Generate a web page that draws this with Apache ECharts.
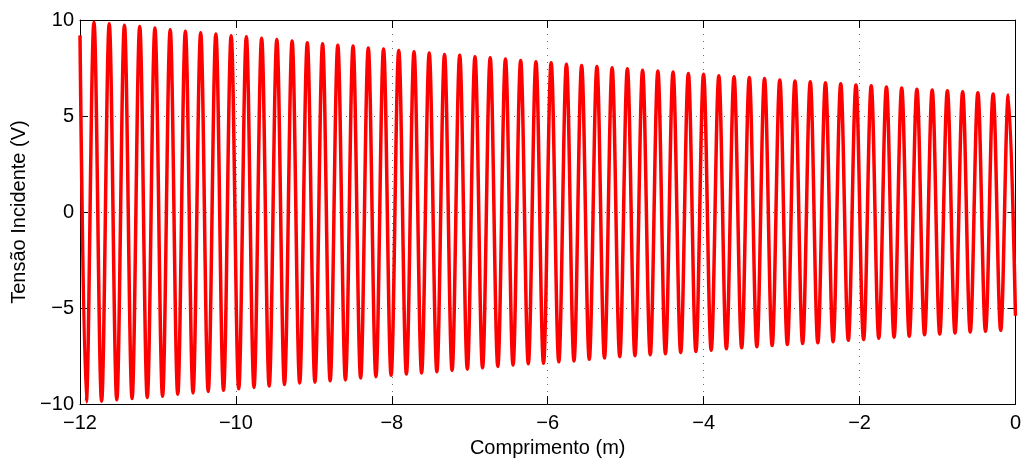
<!DOCTYPE html>
<html>
<head>
<meta charset="utf-8">
<script src="https://cdn.jsdelivr.net/npm/echarts@6/dist/echarts.min.js"></script>
<style>
  html, body { margin: 0; padding: 0; background: #ffffff; }
  #chart { width: 1024px; height: 463px; }
</style>
</head>
<body>
<div id="chart"></div>
<script>
// Crest positions (m) and crest voltages (V) of the incident wave
const peakX = [
  -11.821, -11.625, -11.430, -11.234, -11.039, -10.843, -10.648, -10.452, -10.257, -10.061,
  -9.866, -9.670, -9.475, -9.279, -9.084, -8.888, -8.693, -8.497, -8.302, -8.106,
  -7.911, -7.715, -7.520, -7.324, -7.129, -6.933, -6.738, -6.542, -6.347, -6.151,
  -5.956, -5.760, -5.565, -5.369, -5.174, -4.978, -4.783, -4.587, -4.392, -4.196,
  -4.001, -3.805, -3.610, -3.414, -3.219, -3.023, -2.828, -2.632, -2.437, -2.241,
  -2.046, -1.850, -1.655, -1.459, -1.264, -1.068, -0.873, -0.677, -0.482, -0.286,
  -0.091
];
const peakV = [
  9.88, 9.80, 9.73, 9.66, 9.58, 9.49, 9.42, 9.34, 9.27, 9.18,
  9.13, 9.05, 8.98, 8.91, 8.82, 8.76, 8.69, 8.64, 8.54, 8.49,
  8.41, 8.35, 8.28, 8.21, 8.16, 8.09, 8.03, 7.97, 7.89, 7.82,
  7.77, 7.70, 7.63, 7.58, 7.51, 7.46, 7.39, 7.34, 7.29, 7.22,
  7.17, 7.10, 7.05, 7.00, 6.95, 6.88, 6.83, 6.78, 6.73, 6.68,
  6.62, 6.57, 6.51, 6.46, 6.40, 6.35, 6.32, 6.27, 6.21, 6.15,
  6.10
];

// Trough positions (m) and trough voltages (V)
const troughX = [
  -11.919, -11.723, -11.528, -11.332, -11.137, -10.941, -10.746, -10.550, -10.355, -10.159,
  -9.964, -9.768, -9.573, -9.377, -9.182, -8.986, -8.791, -8.595, -8.400, -8.204,
  -8.009, -7.813, -7.618, -7.422, -7.227, -7.031, -6.836, -6.640, -6.445, -6.249,
  -6.054, -5.858, -5.663, -5.467, -5.272, -5.076, -4.881, -4.685, -4.490, -4.294,
  -4.099, -3.903, -3.708, -3.512, -3.317, -3.121, -2.926, -2.730, -2.535, -2.339,
  -2.144, -1.948, -1.753, -1.557, -1.362, -1.166, -0.971, -0.775, -0.580, -0.384,
  -0.189
];
const troughV = [
  -9.88, -9.85, -9.78, -9.71, -9.66, -9.59, -9.49, -9.42, -9.34, -9.28,
  -9.20, -9.13, -9.06, -8.98, -8.90, -8.86, -8.79, -8.74, -8.64, -8.57,
  -8.50, -8.43, -8.38, -8.31, -8.25, -8.18, -8.11, -8.04, -7.97, -7.90,
  -7.87, -7.80, -7.75, -7.67, -7.60, -7.53, -7.48, -7.43, -7.38, -7.31,
  -7.26, -7.19, -7.12, -7.07, -7.02, -6.95, -6.90, -6.85, -6.81, -6.75,
  -6.68, -6.64, -6.57, -6.52, -6.47, -6.39, -6.35, -6.30, -6.25, -6.21,
  -6.16
];

// Values at both ends of the line
const startPoint = [-12, 9.2];
const endPoint = [0, -5.4];

// Axis ranges and tick spacing
const xRange = [-12, 0];
const xStep = 2;
const yRange = [-10, 10];
const yStep = 5;

const xTitle = 'Comprimento (m)';
const yTitle = 'Tensão Incidente (V)';

// Trace: start, then alternating trough / crest, then end
const wave = [startPoint];
for (let i = 0; i < peakX.length; i++) {
  wave.push([troughX[i], troughV[i]]);
  wave.push([peakX[i], peakV[i]]);
}
wave.push(endPoint);

const FONT = "'Liberation Sans', Arial, Helvetica, sans-serif";
const minusLabel = v => String(v).replace('-', '\u2212');

const gridDots = { color: '#6b6b6b', width: 1, type: [1, 6] };
const frameLine = { show: true, onZero: false, lineStyle: { color: '#000', width: 1 } };
const tickIn = { show: true, inside: true, length: 8, lineStyle: { color: '#000', width: 1 } };

const chart = echarts.init(document.getElementById('chart'), null, { renderer: 'canvas' });

chart.setOption({
  animation: false,
  backgroundColor: '#ffffff',
  grid: { left: 80, right: 6, top: 20, bottom: 52, containLabel: false },
  xAxis: [
    {
      type: 'value', position: 'bottom',
      min: xRange[0], max: xRange[1], interval: xStep,
      axisLine: frameLine, axisTick: tickIn,
      axisLabel: { show: true, margin: 9, color: '#000', fontSize: 20, fontFamily: FONT, formatter: minusLabel },
      splitLine: { show: true, lineStyle: gridDots },
      name: xTitle, nameLocation: 'middle', nameGap: 30,
      nameTextStyle: { color: '#000', fontSize: 20, fontFamily: FONT }
    },
    {
      type: 'value', position: 'top',
      min: xRange[0], max: xRange[1], interval: xStep,
      axisLine: frameLine, axisTick: tickIn,
      axisLabel: { show: false }, splitLine: { show: false }
    }
  ],
  yAxis: [
    {
      type: 'value', position: 'left',
      min: yRange[0], max: yRange[1], interval: yStep,
      axisLine: frameLine, axisTick: tickIn,
      axisLabel: { show: true, margin: 6, color: '#000', fontSize: 20, fontFamily: FONT, formatter: minusLabel },
      splitLine: { show: true, lineStyle: gridDots },
      name: yTitle, nameLocation: 'middle', nameGap: 47,
      nameTextStyle: { color: '#000', fontSize: 20, fontFamily: FONT }
    },
    {
      type: 'value', position: 'right',
      min: yRange[0], max: yRange[1], interval: yStep,
      axisLine: frameLine, axisTick: tickIn,
      axisLabel: { show: false }, splitLine: { show: false }
    }
  ],
  series: [
    {
      type: 'line',
      xAxisIndex: 0, yAxisIndex: 0,
      data: wave,
      smooth: 0.36,
      showSymbol: false,
      clip: true,
      lineStyle: { color: '#ff0000', width: 3.5 },
      emphasis: { disabled: true }
    }
  ]
});
</script>
</body>
</html>
